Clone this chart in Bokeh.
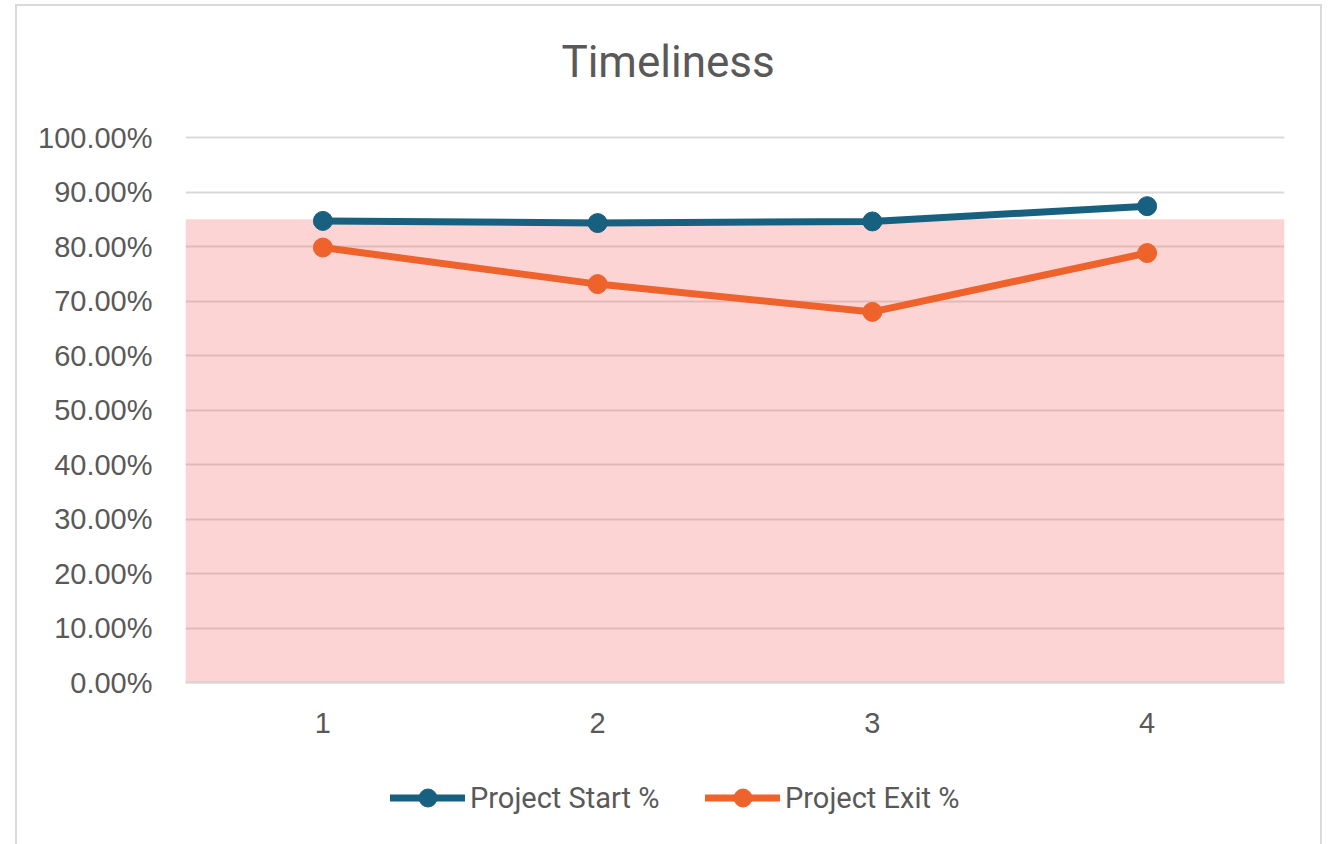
from bokeh.plotting import figure
from bokeh.models import (Range1d, FixedTicker, NumeralTickFormatter, Legend, LegendItem,
                          BoxAnnotation, Label)
from bokeh.embed import file_html
from bokeh.resources import INLINE

# ---- data ----
categories = [1, 2, 3, 4]
start_pct = [0.847, 0.843, 0.846, 0.874]
exit_pct = [0.798, 0.731, 0.680, 0.788]
target_band = 0.85
y_ticks = [0.0, 0.1, 0.2, 0.3, 0.4, 0.5, 0.6, 0.7, 0.8, 0.9, 1.0]
title_text = "Timeliness"
series_names = ["Project Start %", "Project Exit %"]

BLUE = "#18607F"
ORANGE = "#EE622C"
GRAY_TXT = "#595959"
GRID = "#D9D9D9"

# frame spans whole canvas height; y=0 sits at 682px, y=1 at 137px (545 px per unit)
PX = 545.0
BOTTOM = 852
p = figure(width=1307, height=BOTTOM - 6, output_backend="svg", toolbar_location=None,
           x_range=Range1d(0.5, 4.5),
           y_range=Range1d(-(BOTTOM - 682) / PX, 1 + (137 - 6) / PX),
           min_border_left=168, min_border_right=40, min_border_top=0, min_border_bottom=0,
           margin=(4, 0, 0, 15), title=None)
p.styles = {"border": "2px solid #D9D9D9"}
p.outline_line_color = None
p.background_fill_color = "white"
p.border_fill_color = "white"

# pink target band
band = BoxAnnotation(left=0.5, right=4.5, bottom=0, top=target_band,
                     fill_color="#F87070", fill_alpha=0.3, line_alpha=0, level="underlay")
p.add_layout(band)

# grid
p.xgrid.grid_line_color = None
p.ygrid.grid_line_color = GRID
p.ygrid.grid_line_width = 2
p.ygrid.ticker = FixedTicker(ticks=y_ticks)

# axes
p.yaxis.ticker = FixedTicker(ticks=y_ticks)
p.yaxis.formatter = NumeralTickFormatter(format="0.00%")
p.yaxis.axis_line_color = None
p.yaxis.major_tick_line_color = None
p.yaxis.minor_tick_line_color = None
p.yaxis.major_label_standoff = 27
p.yaxis.major_label_text_font = "Liberation Sans"
p.yaxis.major_label_text_font_size = "29px"
p.yaxis.major_label_text_color = GRAY_TXT

p.xaxis.fixed_location = 0
p.xaxis.ticker = FixedTicker(ticks=categories)
p.xaxis.axis_line_color = GRID
p.xaxis.axis_line_width = 2
p.xaxis.major_tick_line_color = None
p.xaxis.minor_tick_line_color = None
p.xaxis.major_label_standoff = 24
p.xaxis.major_label_text_font = "Liberation Sans"
p.xaxis.major_label_text_font_size = "29px"
p.xaxis.major_label_text_color = GRAY_TXT

# series
l1 = p.line(categories, start_pct, line_color=BLUE, line_width=7, line_join="round", line_cap="round")
s1 = p.scatter(categories, start_pct, size=19, fill_color=BLUE, line_color=BLUE)
l2 = p.line(categories, exit_pct, line_color=ORANGE, line_width=7, line_join="round", line_cap="round")
s2 = p.scatter(categories, exit_pct, size=19, fill_color=ORANGE, line_color=ORANGE)

# title
p.add_layout(Label(x=0.5 + (668 - 185) / 275.0, y=(682 - 61) / PX, text=title_text,
                   text_align="center", text_baseline="alphabetic", text_font="Roboto",
                   text_font_size="44px", text_color=GRAY_TXT))

# legends (one per series, placed below the axis)
def make_legend(name, rends, x_pos):
    return Legend(items=[LegendItem(label=name, renderers=rends)],
                  location=(x_pos, BOTTOM - 820), orientation="horizontal",
                  glyph_width=75, glyph_height=45, label_height=45, label_standoff=5,
                  padding=0, margin=0, border_line_alpha=0, background_fill_alpha=0,
                  label_text_font="Roboto", label_text_font_size="29px",
                  label_text_color=GRAY_TXT)

p.add_layout(make_legend(series_names[0], [l1, s1], 390 - 185))
p.add_layout(make_legend(series_names[1], [l2, s2], 705 - 185))

open("out.html", "w").write(file_html(p, INLINE))
